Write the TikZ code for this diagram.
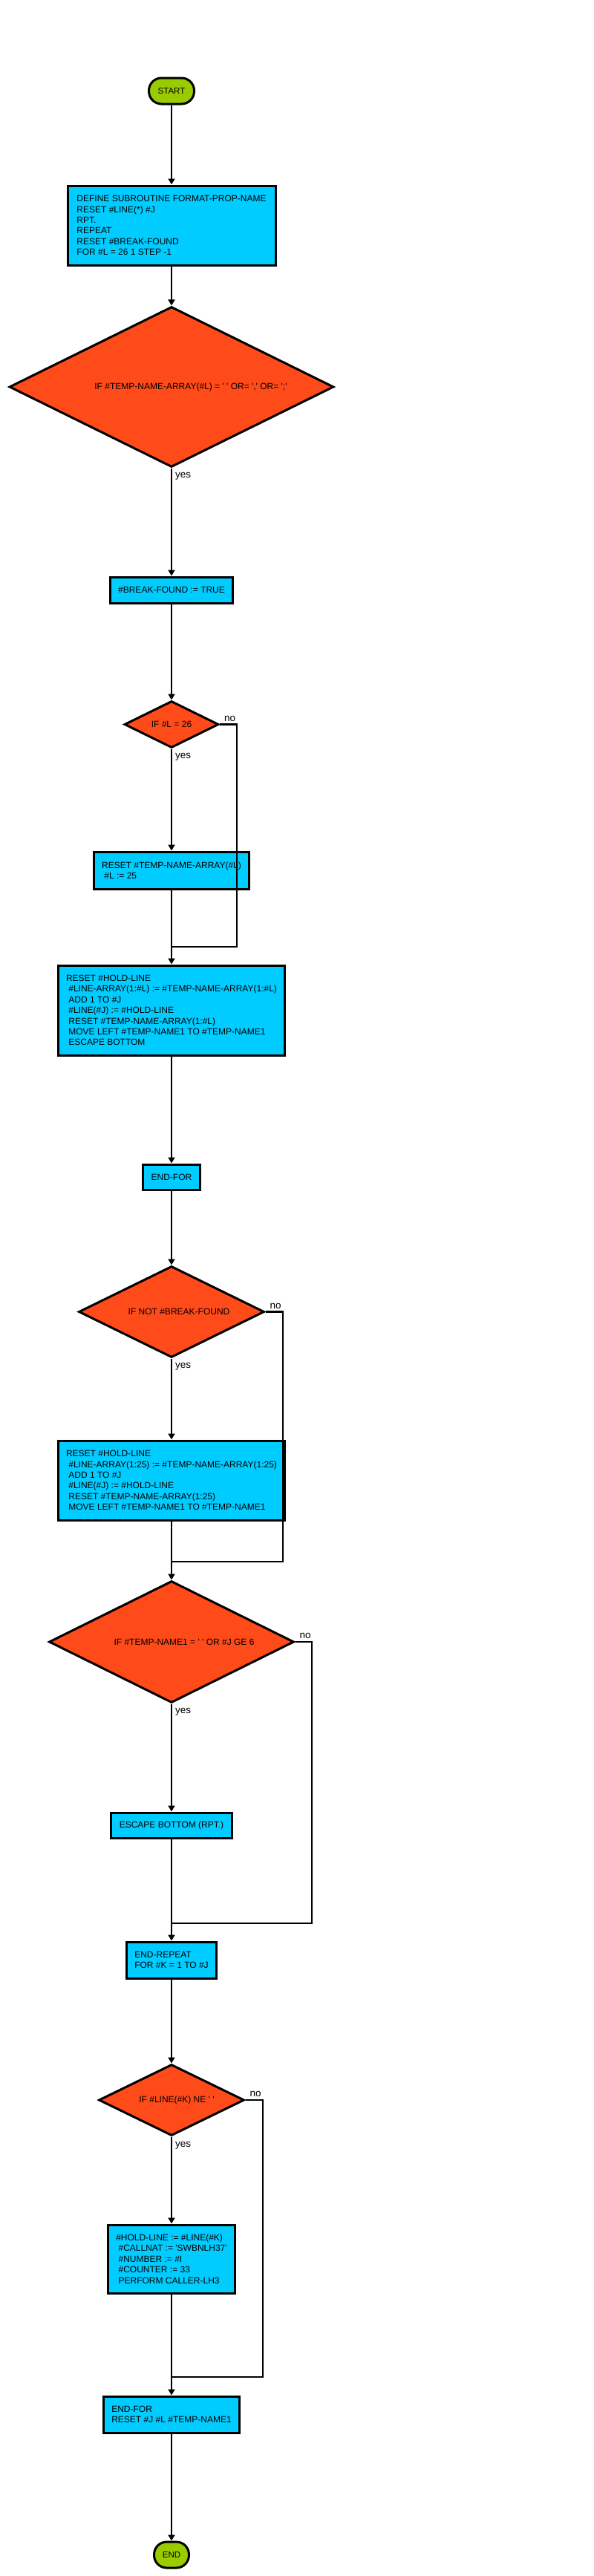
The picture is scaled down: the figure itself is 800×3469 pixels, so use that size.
\documentclass[tikz,border=0pt]{standalone}
\usepackage{fontspec}
\setmainfont{Liberation Sans}
\usetikzlibrary{shapes.geometric,arrows.meta}
\definecolor{boxblue}{RGB}{0,204,255}
\definecolor{ifred}{RGB}{255,74,26}
\definecolor{endgreen}{RGB}{153,204,0}
\newcommand{\qq}{\textquotesingle}

\begin{document}
\begin{tikzpicture}[x=1pt,y=-1pt,
  every node/.style={font=\fontsize{12}{14.4}\selectfont},
  proc/.style={rectangle,draw,line width=3pt,fill=boxblue,align=left,inner xsep=11pt,inner ysep=0pt},
  cond/.style={diamond,draw,line width=3pt,fill=ifred,inner sep=0pt,shape aspect=2},
  term/.style={rectangle,rounded corners=17pt,draw,line width=3pt,fill=endgreen,font=\fontsize{11.5}{13}\selectfont},
  flow/.style={line width=2.2pt,-{Triangle[length=8pt,width=9pt]}},
  link/.style={line width=2.2pt},
  yeslab/.style={anchor=north west,inner sep=0pt,xshift=5pt,yshift=-6pt,font=\fontsize{13.5}{16}\selectfont},
  nolab/.style={anchor=south west,inner sep=0pt,xshift=6pt,yshift=4pt,font=\fontsize{13.5}{16}\selectfont}]
\useasboundingbox (0,0) rectangle (800,3469);
\node[term,minimum width=61pt,minimum height=35pt] (start) at (231,122.5) {START};
\node[proc,minimum width=280pt,minimum height=107pt] (define) at (231,303.5) {DEFINE SUBROUTINE FORMAT-PROP-NAME\\RESET \#LINE(*) \#J\\RPT.\\REPEAT\\RESET \#BREAK-FOUND\\FOR \#L = 26 1 STEP -1};
\node[cond,minimum width=437pt,minimum height=216pt] (ifsep) at (231,521) {\hspace*{52pt}IF \#TEMP-NAME-ARRAY(\#L) = \qq{} \qq{} OR= \qq{},\qq{} OR= \qq{};\qq{}};
\node[proc,minimum width=165pt,minimum height=35pt] (found) at (231,794.5) {\#BREAK-FOUND := TRUE};
\node[cond,minimum width=127pt,minimum height=63pt] (iflast) at (231,975.5) {IF \#L = 26};
\node[proc,minimum width=209pt,minimum height=50pt] (resettmp) at (231,1172) {RESET \#TEMP-NAME-ARRAY(\#L)\\~\#L := 25};
\node[proc,minimum width=305pt,minimum height=121pt] (hold1) at (231,1360.5) {RESET \#HOLD-LINE\\~\#LINE-ARRAY(1:\#L) := \#TEMP-NAME-ARRAY(1:\#L)\\~ADD 1 TO \#J\\~\#LINE(\#J) := \#HOLD-LINE\\~RESET \#TEMP-NAME-ARRAY(1:\#L)\\~MOVE LEFT \#TEMP-NAME1 TO \#TEMP-NAME1\\~ESCAPE BOTTOM};
\node[proc,minimum width=75pt,minimum height=34pt] (endfor) at (231,1585) {END-FOR};
\node[cond,minimum width=250pt,minimum height=123pt] (ifnot) at (231,1766.5) {\hspace*{20pt}IF NOT \#BREAK-FOUND};
\node[proc,minimum width=305pt,minimum height=107pt] (hold2) at (231,1993.5) {RESET \#HOLD-LINE\\~\#LINE-ARRAY(1:25) := \#TEMP-NAME-ARRAY(1:25)\\~ADD 1 TO \#J\\~\#LINE(\#J) := \#HOLD-LINE\\~RESET \#TEMP-NAME-ARRAY(1:25)\\~MOVE LEFT \#TEMP-NAME1 TO \#TEMP-NAME1};
\node[cond,minimum width=330pt,minimum height=164pt] (ifdone) at (231,2211) {\hspace*{34pt}IF \#TEMP-NAME1 = \qq{} \qq{} OR \#J GE 6};
\node[proc,minimum width=163pt,minimum height=34pt] (escape) at (231,2458) {ESCAPE BOTTOM (RPT.)};
\node[proc,minimum width=120pt,minimum height=49pt] (endrepeat) at (231,2639.5) {END-REPEAT\\FOR \#K = 1 TO \#J};
\node[cond,minimum width=196pt,minimum height=96pt] (ifline) at (231,2828) {\hspace*{14pt}IF \#LINE(\#K) NE \qq{} \qq{}};
\node[proc,minimum width=170pt,minimum height=92pt] (callnat) at (231,3042) {\#HOLD-LINE := \#LINE(\#K)\\~\#CALLNAT := \qq{}SWBNLH37\qq{}\\~\#NUMBER := \#I\\~\#COUNTER := 33\\~PERFORM CALLER-LH3};
\node[proc,minimum width=182pt,minimum height=49pt] (resetall) at (231,3251.5) {END-FOR\\RESET \#J \#L \#TEMP-NAME1};
\node[term,minimum width=47pt,minimum height=35pt] (stop) at (231,3440.5) {END};
\node[yeslab] (yes1) at (ifsep.south) {yes};
\node[yeslab] (yes2) at (iflast.south) {yes};
\node[nolab] (no2) at (iflast.east) {no};
\node[yeslab] (yes3) at (ifnot.south) {yes};
\node[nolab] (no3) at (ifnot.east) {no};
\node[yeslab] (yes4) at (ifdone.south) {yes};
\node[nolab] (no4) at (ifdone.east) {no};
\node[yeslab] (yes5) at (ifline.south) {yes};
\node[nolab] (no5) at (ifline.east) {no};
\coordinate (c2) at (319,1275);
\coordinate (j2) at (231,1275);
\coordinate (c3) at (381,2103);
\coordinate (j3) at (231,2103);
\coordinate (c4) at (420,2590);
\coordinate (j4) at (231,2590);
\coordinate (c5) at (354,3201);
\coordinate (j5) at (231,3201);
\draw[flow] (start) -- (define);
\draw[flow] (define) -- (ifsep);
\draw[flow] (ifsep) -- (found);
\draw[flow] (found) -- (iflast);
\draw[flow] (iflast) -- (resettmp);
\draw[flow] (resettmp) -- (hold1);
\draw[link] (iflast.east) -| (c2) -- (j2);
\draw[flow] (hold1) -- (endfor);
\draw[flow] (endfor) -- (ifnot);
\draw[flow] (ifnot) -- (hold2);
\draw[flow] (hold2) -- (ifdone);
\draw[link] (ifnot.east) -| (c3) -- (j3);
\draw[flow] (ifdone) -- (escape);
\draw[flow] (escape) -- (endrepeat);
\draw[link] (ifdone.east) -| (c4) -- (j4);
\draw[flow] (endrepeat) -- (ifline);
\draw[flow] (ifline) -- (callnat);
\draw[flow] (callnat) -- (resetall);
\draw[link] (ifline.east) -| (c5) -- (j5);
\draw[flow] (resetall) -- (stop);
\end{tikzpicture}
\end{document}
